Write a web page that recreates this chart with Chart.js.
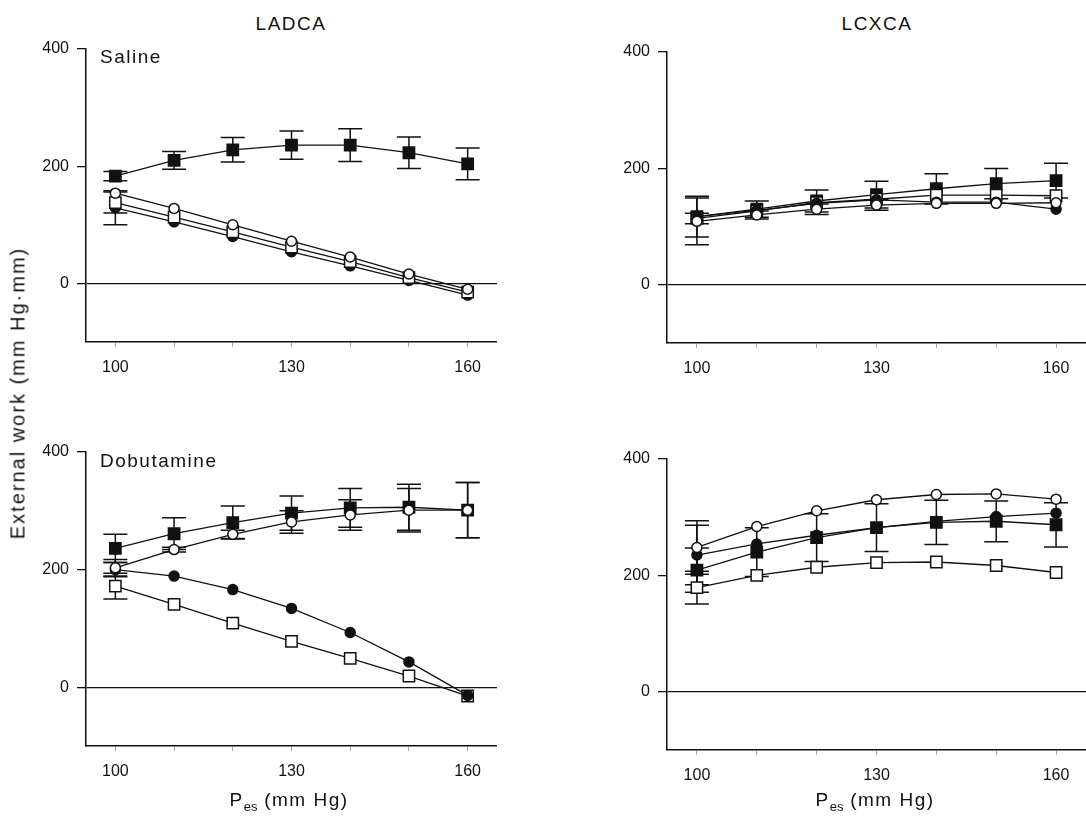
<!DOCTYPE html>
<html>
<head>
<meta charset="utf-8">
<script src="https://cdn.jsdelivr.net/npm/chart.js@4.4.1/dist/chart.umd.min.js"></script>
<style>
  body { margin: 0; background: #fff; width: 1086px; height: 817px; position: relative; overflow: hidden;
         font-family: "Liberation Sans", Arial, sans-serif; color: #111; }
  canvas { position: absolute; }
  .t { position: absolute; font-size: 19px; line-height: 19px; letter-spacing: 1.5px; white-space: nowrap; }
  .c { transform: translateX(-50%); }
  sub { font-size: 13px; letter-spacing: 0; vertical-align: -5px; }
</style>
</head>
<body>
<canvas id="ladSaline"></canvas>
<canvas id="lcxSaline"></canvas>
<canvas id="ladDobu"></canvas>
<canvas id="lcxDobu"></canvas>

<div class="t c" style="left:291px;top:14px">LADCA</div>
<div class="t c" style="left:877px;top:14px">LCXCA</div>
<div class="t" style="left:100px;top:47px">Saline</div>
<div class="t" style="left:100px;top:451px">Dobutamine</div>
<div class="t c" style="left:289px;top:790px">P<sub>es</sub> (mm Hg)</div>
<div class="t c" style="left:875px;top:790px">P<sub>es</sub> (mm Hg)</div>
<div class="t" style="left:18px;top:393px;font-size:20px;letter-spacing:2px;transform:translate(-50%,-50%) rotate(-90deg)">External work (mm Hg·mm)</div>

<script>
// x values (end-systolic pressure, mm Hg) and axis ticks
const pressure = [100, 110, 120, 130, 140, 150, 160];
const xTickValues = [100, 110, 120, 130, 140, 150, 160];
const xLabelValues = [100, 130, 160];
const yTickValues = [0, 200, 400];

// LADCA - saline
const ladSalOpenCirc = [154, 128, 100, 72, 45, 16, -10];
const ladSalOpenCircErr = [null, null, null, null, null, null, null];
const ladSalFilledCirc = [129, 105, 80, 54, 30, 5, -20];
const ladSalFilledCircErr = [29, null, null, null, null, null, null];
const ladSalOpenSq = [138, 113, 88, 62, 37, 10, -15];
const ladSalOpenSqErr = [18, null, null, null, null, null, null];
const ladSalFilledSq = [183, 210, 228, 236, 236, 223, 204];
const ladSalFilledSqErr = [8, 15, 21, 24, 28, 27, 27];

// LCXCA - saline
const lcxSalOpenCirc = [109, 120, 130, 137, 140, 140, 141];
const lcxSalOpenCircErr = [40, 7, 9, 9, null, null, null];
const lcxSalFilledCirc = [117, 128, 140, 146, 142, 142, 130];
const lcxSalFilledCircErr = [null, null, null, null, null, null, null];
const lcxSalOpenSq = [114, 127, 141, 147, 154, 154, 153];
const lcxSalOpenSqErr = [9, null, null, null, null, null, null];
const lcxSalFilledSq = [117, 130, 144, 155, 165, 174, 179];
const lcxSalFilledSqErr = [35, 14, 19, 23, 26, 26, 30];

// LADCA - dobutamine
const ladDobOpenCirc = [203, 234, 260, 281, 293, 301, 301];
const ladDobOpenCircErr = [14, 4, 7, 19, 26, 37, 47];
const ladDobFilledCirc = [200, 189, 166, 134, 93, 43, -14];
const ladDobFilledCircErr = [12, null, null, null, null, null, null];
const ladDobOpenSq = [172, 141, 109, 78, 49, 19, -15];
const ladDobOpenSqErr = [22, null, null, null, null, null, null];
const ladDobFilledSq = [236, 261, 280, 296, 305, 306, 301];
const ladDobFilledSqErr = [24, 27, 28, 29, 33, 39, 47];

// LCXCA - dobutamine
const lcxDobOpenCirc = [248, 284, 311, 330, 339, 340, 331];
const lcxDobOpenCircErr = [46, null, null, null, null, null, null];
const lcxDobFilledCirc = [235, 254, 269, 282, 293, 301, 307];
const lcxDobFilledCircErr = [51, null, null, null, null, null, null];
const lcxDobOpenSq = [179, 200, 214, 222, 223, 217, 205];
const lcxDobOpenSqErr = [28, null, null, null, null, null, null];
const lcxDobFilledSq = [209, 240, 265, 282, 291, 293, 287];
const lcxDobFilledSqErr = [38, 42, 41, 41, 38, 35, 38];

const ink = '#111';
const fontFam = '"Liberation Sans", Arial, sans-serif';

// marker looks for the four groups
const markers = {
  openCirc:   { pointStyle: 'circle', pointRadius: 5, pointBackgroundColor: '#fff' },
  filledCirc: { pointStyle: 'circle', pointRadius: 5, pointBackgroundColor: ink },
  openSq:     { pointStyle: 'rect', pointRadius: 8, pointBackgroundColor: '#fff' },
  filledSq:   { pointStyle: 'rect', pointRadius: 8, pointBackgroundColor: ink }
};

// draws the +/- error bars behind the markers
const errorBars = {
  id: 'errorBars',
  beforeDatasetsDraw(chart) {
    const { ctx, scales: { x, y } } = chart;
    ctx.save();
    ctx.strokeStyle = ink;
    ctx.lineWidth = 1.5;
    chart.data.datasets.forEach(ds => {
      if (!ds.errors) return;
      ds.data.forEach((p, i) => {
        const e = ds.errors[i];
        if (e == null) return;
        const px = x.getPixelForValue(p.x);
        const top = y.getPixelForValue(p.y + e);
        const bot = y.getPixelForValue(p.y - e);
        ctx.beginPath();
        ctx.moveTo(px, top); ctx.lineTo(px, bot);
        ctx.moveTo(px - 12, top); ctx.lineTo(px + 12, top);
        ctx.moveTo(px - 12, bot); ctx.lineTo(px + 12, bot);
        ctx.stroke();
      });
    });
    ctx.restore();
  }
};

function makeSet(values, errors, kind) {
  return Object.assign({
    data: pressure.map((p, i) => ({ x: p, y: values[i] })),
    errors: errors,
    borderColor: ink,
    borderWidth: 1.3,
    pointBorderColor: ink,
    pointBorderWidth: 1.5,
    pointHoverRadius: 0,
    fill: false,
    tension: 0
  }, markers[kind]);
}

// rect = where the plot area sits on the page
function makePanel(id, rect, sets) {
  const yW = 80, xH = 50, padTop = 12;
  const cv = document.getElementById(id);
  cv.width = rect.r - rect.l + yW;
  cv.height = rect.b - rect.t + padTop + xH;
  cv.style.left = (rect.l - yW) + 'px';
  cv.style.top = (rect.t - padTop) + 'px';
  new Chart(cv.getContext('2d'), {
    type: 'line',
    data: { datasets: sets },
    options: {
      responsive: false,
      animation: false,
      devicePixelRatio: 1,
      layout: { autoPadding: false, padding: { top: padTop, right: 0, left: 0, bottom: 0 } },
      plugins: { legend: { display: false }, tooltip: { enabled: false } },
      scales: {
        x: {
          type: 'linear', min: 95, max: 165,
          afterBuildTicks: s => { s.ticks = xTickValues.map(v => ({ value: v })); },
          afterFit: s => { s.height = xH; s.paddingLeft = 0; s.paddingRight = 0; },
          ticks: {
            callback: v => xLabelValues.includes(v) ? String(v) : '',
            autoSkip: false, maxRotation: 0, padding: 11, color: ink,
            font: { size: 16, family: fontFam }
          },
          grid: { drawOnChartArea: false, tickLength: 5, tickColor: '#aaa' },
          border: { color: ink, width: 1.5 }
        },
        y: {
          min: -100, max: 400,
          afterBuildTicks: s => { s.ticks = yTickValues.map(v => ({ value: v })); },
          afterFit: s => { s.width = yW; s.paddingTop = 0; s.paddingBottom = 0; },
          ticks: { padding: 8, color: ink, font: { size: 16, family: fontFam } },
          grid: {
            color: c => (c.tick && c.tick.value === 0) ? ink : 'rgba(0,0,0,0)',
            lineWidth: 1.3, tickLength: 9, tickColor: ink
          },
          border: { color: ink, width: 1.5 }
        }
      }
    },
    plugins: [errorBars]
  });
}

makePanel('ladSaline', { l: 86, t: 49, r: 497, b: 342 }, [
  makeSet(ladSalOpenCirc, ladSalOpenCircErr, 'openCirc'),
  makeSet(ladSalOpenSq, ladSalOpenSqErr, 'openSq'),
  makeSet(ladSalFilledCirc, ladSalFilledCircErr, 'filledCirc'),
  makeSet(ladSalFilledSq, ladSalFilledSqErr, 'filledSq')
]);

makePanel('lcxSaline', { l: 667, t: 52, r: 1086, b: 343 }, [
  makeSet(lcxSalOpenCirc, lcxSalOpenCircErr, 'openCirc'),
  makeSet(lcxSalFilledCirc, lcxSalFilledCircErr, 'filledCirc'),
  makeSet(lcxSalOpenSq, lcxSalOpenSqErr, 'openSq'),
  makeSet(lcxSalFilledSq, lcxSalFilledSqErr, 'filledSq')
]);

makePanel('ladDobu', { l: 86, t: 452, r: 497, b: 746 }, [
  makeSet(ladDobOpenCirc, ladDobOpenCircErr, 'openCirc'),
  makeSet(ladDobFilledCirc, ladDobFilledCircErr, 'filledCirc'),
  makeSet(ladDobOpenSq, ladDobOpenSqErr, 'openSq'),
  makeSet(ladDobFilledSq, ladDobFilledSqErr, 'filledSq')
]);

makePanel('lcxDobu', { l: 667, t: 459, r: 1086, b: 750 }, [
  makeSet(lcxDobOpenCirc, lcxDobOpenCircErr, 'openCirc'),
  makeSet(lcxDobFilledCirc, lcxDobFilledCircErr, 'filledCirc'),
  makeSet(lcxDobFilledSq, lcxDobFilledSqErr, 'filledSq'),
  makeSet(lcxDobOpenSq, lcxDobOpenSqErr, 'openSq')
]);
</script>
</body>
</html>
